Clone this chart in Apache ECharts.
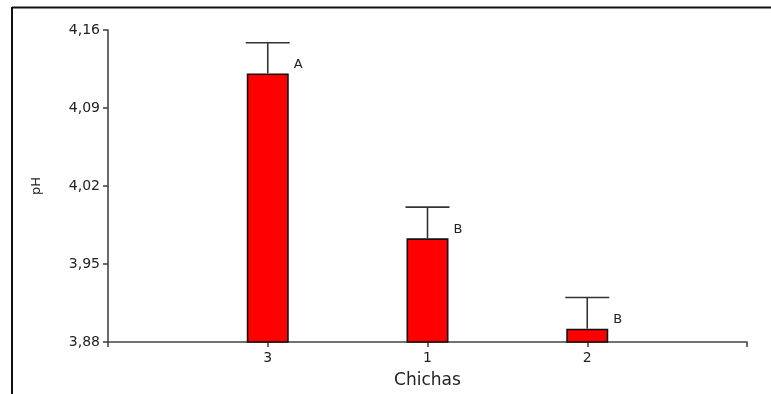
<!DOCTYPE html>
<html>
<head>
<meta charset="utf-8">
<script src="https://cdn.jsdelivr.net/npm/echarts@6/dist/echarts.min.js"></script>
<style>
  html, body { margin: 0; padding: 0; background: #fff; }
  #chart { width: 771px; height: 394px; }
</style>
</head>
<body>
<div id="chart"></div>
<script>
// Chicha pH: mean with upper error bar and significance letter
const categories = ['3', '1', '2'];
const meanPH = [4.121, 3.973, 3.892];
const upperPH = [4.1485, 4.001, 3.920];
const letters = ['A', 'B', 'B'];
const yTicks = [3.88, 3.95, 4.02, 4.09, 4.16];

const FONT = 'DejaVu Sans';
const TXT = '#222';

// bars sit at positions 1..n on a value axis running from 0 to n+1
const barData = meanPH.map((v, i) => [i + 1, v]);
const errData = meanPH.map((v, i) => [i + 1, v, upperPH[i], i]);

const chart = echarts.init(document.getElementById('chart'), null, { renderer: 'canvas' });

chart.setOption({
  backgroundColor: '#ffffff',
  animation: false,
  grid: { left: 108, right: 24, top: 30, bottom: 46.5, containLabel: false },
  xAxis: {
    type: 'value',
    min: 0,
    max: categories.length + 1,
    interval: 1,
    splitLine: { show: false },
    axisLine: { show: true, lineStyle: { color: '#444', width: 1.6 } },
    axisTick: { show: true, length: 5, lineStyle: { color: '#444', width: 1.6 } },
    axisLabel: {
      margin: 9,
      fontFamily: FONT, fontSize: 14, color: TXT,
      formatter: v => categories[Math.round(v) - 1] || ''
    },
    name: 'Chichas',
    nameLocation: 'middle',
    nameGap: 30,
    nameTextStyle: { fontFamily: FONT, fontSize: 17, color: TXT }
  },
  yAxis: {
    type: 'value',
    min: yTicks[0],
    max: yTicks[yTicks.length - 1],
    interval: 0.07,
    splitLine: { show: false },
    axisLine: { show: true, lineStyle: { color: '#444', width: 1.6 } },
    axisTick: { show: true, length: 5, lineStyle: { color: '#444', width: 1.6 } },
    axisLabel: {
      margin: 8,
      fontFamily: FONT, fontSize: 14, color: TXT,
      formatter: v => v.toFixed(2).replace('.', ',')
    },
    name: 'pH',
    nameLocation: 'middle',
    nameRotate: 90,
    nameGap: 65,
    nameTextStyle: { fontFamily: FONT, fontSize: 13, color: TXT }
  },
  series: [
    {
      type: 'bar',
      data: barData,
      barWidth: 42,
      itemStyle: { color: '#ff0000', borderColor: '#111', borderWidth: 1.6 }
    },
    {
      type: 'custom',
      data: errData,
      clip: false,
      z: 5,
      renderItem: (params, api) => {
        const x = api.value(0);
        const top = api.coord([x, api.value(1)]);
        const hi = api.coord([x, api.value(2)]);
        const half = 22;
        const style = { stroke: '#333', lineWidth: 1.6 };
        return {
          type: 'group',
          children: [
            { type: 'line', shape: { x1: top[0], y1: top[1], x2: hi[0], y2: hi[1] }, style },
            { type: 'line', shape: { x1: hi[0] - half, y1: hi[1], x2: hi[0] + half, y2: hi[1] }, style },
            {
              type: 'text',
              style: {
                x: top[0] + 26, y: top[1] - 9,
                text: letters[api.value(3)],
                fontFamily: FONT, fontSize: 13, fill: TXT,
                align: 'left', verticalAlign: 'middle'
              }
            }
          ]
        };
      }
    }
  ],
  graphic: [
    { type: 'line', shape: { x1: 12, y1: 7, x2: 12, y2: 394 }, style: { stroke: '#111', lineWidth: 2 } },
    { type: 'line', shape: { x1: 12, y1: 7.5, x2: 771, y2: 7.5 }, style: { stroke: '#111', lineWidth: 2 } }
  ]
});
</script>
</body>
</html>
